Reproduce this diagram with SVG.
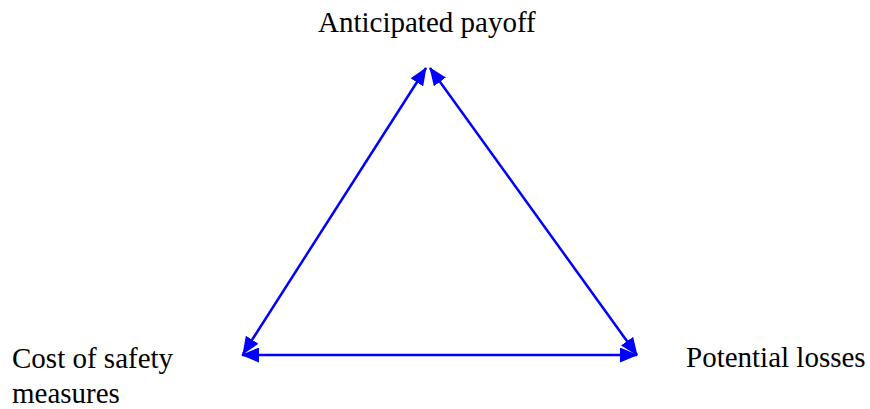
<svg xmlns="http://www.w3.org/2000/svg" width="870" height="409" viewBox="0 0 870 409">
<style>
.lbl{font-family:"Liberation Serif","Times New Roman",serif;font-size:29px;fill:#000}
.edge{stroke:#0000FF;stroke-width:2.5;fill:none;marker-start:url(#ah);marker-end:url(#ah)}
</style>
<defs>
<marker id="ah" viewBox="0 0 18 15" refX="17" refY="7.5" markerWidth="18" markerHeight="15" markerUnits="userSpaceOnUse" orient="auto-start-reverse">
<path d="M0,0 L18,7.5 L0,15 z" fill="#0000FF"/>
</marker>
</defs>
<rect width="870" height="409" fill="#fff"/>
<g id="connectors">
<line class="edge" x1="426" y1="68" x2="243" y2="354"/>
<line class="edge" x1="430" y1="68" x2="637" y2="355"/>
<line class="edge" x1="242" y1="355" x2="637" y2="355"/>
</g>
<g id="payoff"><text class="lbl" x="318" y="32">Anticipated payoff</text></g>
<g id="cost"><text class="lbl" x="12" y="368">Cost of safety</text><text class="lbl" x="12" y="403">measures</text></g>
<g id="losses"><text class="lbl" x="686" y="367">Potential losses</text></g>
</svg>
